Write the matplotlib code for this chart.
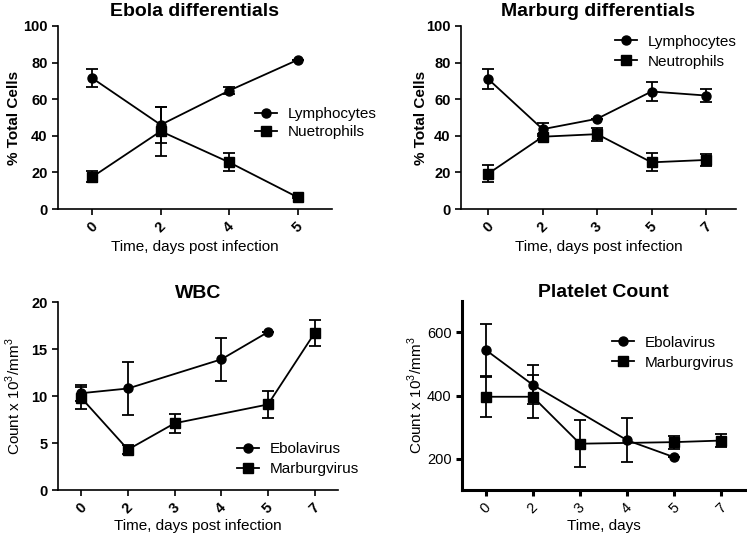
import matplotlib
matplotlib.use('Agg')
import matplotlib.pyplot as plt
from matplotlib.lines import Line2D
import numpy as np

plt.rcParams['font.family'] = ['Liberation Sans', 'DejaVu Sans']
plt.rcParams['mathtext.fontset'] = 'custom'
plt.rcParams['mathtext.rm'] = 'Liberation Sans'

# Ebola differentials
ebola_days = ['0', '2', '4', '5']
ebola_lymph = [71.5, 46.0, 64.7, 81.5]
ebola_lymph_err = [5.0, 10.0, 2.0, 0.0]
ebola_neut = [17.5, 42.5, 25.5, 6.4]
ebola_neut_err = [3.0, 13.5, 5.0, 0.6]

# Marburg differentials
marburg_days = ['0', '2', '3', '5', '7']
marburg_lymph = [71.0, 43.6, 49.3, 64.2, 62.0]
marburg_lymph_err = [5.5, 3.6, 0.0, 5.0, 3.4]
marburg_neut = [19.3, 39.5, 40.9, 25.5, 26.8]
marburg_neut_err = [4.5, 1.5, 3.5, 5.0, 3.3]

# WBC / platelets share the same day axis
count_days = ['0', '2', '3', '4', '5', '7']
wbc_ebola_idx = [0, 1, 3, 4]
wbc_ebola = [10.3, 10.8, 13.9, 16.8]
wbc_ebola_err = [0.85, 2.8, 2.3, 0.0]
wbc_marburg_idx = [0, 1, 2, 4, 5]
wbc_marburg = [9.8, 4.3, 7.1, 9.1, 16.7]
wbc_marburg_err = [1.2, 0.45, 1.0, 1.45, 1.4]

plt_ebola_idx = [0, 1, 3, 4]
plt_ebola = [545, 434, 258, 204]
plt_ebola_err = [82, 62, 70, 0]
plt_marburg_idx = [0, 1, 2, 4, 5]
plt_marburg = [396, 396, 247, 252, 257]
plt_marburg_err = [64, 68, 75, 21, 21]

fig = plt.figure(figsize=(7.47, 5.37), dpi=100)
ax1 = fig.add_axes([0.0776, 0.6108, 0.3668, 0.3408])
ax2 = fig.add_axes([0.6171, 0.6108, 0.3681, 0.3408])
ax3 = fig.add_axes([0.0776, 0.0875, 0.3748, 0.3501])
ax4 = fig.add_axes([0.6185, 0.0875, 0.3788, 0.3520])

line_kw = dict(color='black', lw=1.3, elinewidth=1.3, capsize=4, capthick=1.3, ms=6.5)


def style_axes(ax, spine_w, bold_ticks):
    for s in ['top', 'right']:
        ax.spines[s].set_visible(False)
    for s in ['left', 'bottom']:
        ax.spines[s].set_linewidth(spine_w)
    ax.tick_params(direction='out', length=4, width=spine_w, labelsize=10.5)
    w = 'bold' if bold_ticks else 'normal'
    for lab in ax.get_yticklabels():
        lab.set_fontweight(w)
    for lab in ax.get_xticklabels():
        lab.set_fontweight(w)
        lab.set_rotation(45)
        lab.set_ha('center')
        lab.set_va('top')


def add_legend(ax, labels, anchor, spacing):
    handles = [Line2D([], [], color='black', lw=1.3, marker='o', ms=6.5),
               Line2D([], [], color='black', lw=1.3, marker='s', ms=6.5)]
    ax.legend(handles, labels, loc='center left', bbox_to_anchor=anchor, frameon=False,
              fontsize=11, handlelength=1.45, handletextpad=0.7, labelspacing=spacing,
              borderpad=0, borderaxespad=0)


# --- Ebola differentials ---
x = np.arange(len(ebola_days))
ax1.errorbar(x, ebola_lymph, yerr=ebola_lymph_err, marker='o', **line_kw)
ax1.errorbar(x, ebola_neut, yerr=ebola_neut_err, marker='s', **line_kw)
ax1.set_xlim(-0.5, 3.5)
ax1.set_ylim(0, 100)
ax1.set_yticks([0, 20, 40, 60, 80, 100])
ax1.set_xticks(x)
ax1.set_xticklabels(ebola_days)
ax1.set_title('Ebola differentials', fontsize=14, fontweight='bold', pad=7)
ax1.set_ylabel('% Total Cells', fontsize=11, fontweight='bold')
ax1.yaxis.set_label_coords(-0.135, 0.5)
ax1.set_xlabel('Time, days post infection', fontsize=11)
ax1.xaxis.set_label_coords(0.5, -0.17)
style_axes(ax1, 1.2, True)
add_legend(ax1, ['Lymphocytes', 'Nuetrophils'], (0.72, 0.47), 0.25)

# --- Marburg differentials ---
x = np.arange(len(marburg_days))
ax2.errorbar(x, marburg_lymph, yerr=marburg_lymph_err, marker='o', **line_kw)
ax2.errorbar(x, marburg_neut, yerr=marburg_neut_err, marker='s', **line_kw)
ax2.set_xlim(-0.5, 4.55)
ax2.set_ylim(0, 100)
ax2.set_yticks([0, 20, 40, 60, 80, 100])
ax2.set_xticks(x)
ax2.set_xticklabels(marburg_days)
ax2.set_title('Marburg differentials', fontsize=14, fontweight='bold', pad=7)
ax2.set_ylabel('% Total Cells', fontsize=11, fontweight='bold')
ax2.yaxis.set_label_coords(-0.12, 0.5)
ax2.set_xlabel('Time, days post infection', fontsize=11)
ax2.xaxis.set_label_coords(0.5, -0.17)
style_axes(ax2, 1.2, True)
add_legend(ax2, ['Lymphocytes', 'Neutrophils'], (0.56, 0.86), 0.4)

# --- WBC ---
x = np.arange(len(count_days))
ax3.errorbar(wbc_ebola_idx, wbc_ebola, yerr=wbc_ebola_err, marker='o', **line_kw)
ax3.errorbar(wbc_marburg_idx, wbc_marburg, yerr=wbc_marburg_err, marker='s', **line_kw)
ax3.set_xlim(-0.5, 5.5)
ax3.set_ylim(0, 20)
ax3.set_yticks([0, 5, 10, 15, 20])
ax3.set_xticks(x)
ax3.set_xticklabels(count_days)
ax3.set_title('WBC', fontsize=14, fontweight='bold', pad=3)
ax3.set_ylabel(r'Count x 10$^3$/mm$^3$', fontsize=11)
ax3.yaxis.set_label_coords(-0.125, 0.5)
ax3.set_xlabel('Time, days post infection', fontsize=11)
ax3.xaxis.set_label_coords(0.5, -0.155)
style_axes(ax3, 1.2, True)
add_legend(ax3, ['Ebolavirus', 'Marburgvirus'], (0.64, 0.165), 0.4)

# --- Platelet count ---
ax4.errorbar(plt_ebola_idx, plt_ebola, yerr=plt_ebola_err, marker='o', **line_kw)
ax4.errorbar(plt_marburg_idx, plt_marburg, yerr=plt_marburg_err, marker='s', **line_kw)
ax4.set_xlim(-0.5, 5.5)
ax4.set_ylim(100, 700)
ax4.set_yticks([200, 400, 600])
ax4.set_xticks(x)
ax4.set_xticklabels(count_days)
ax4.set_title('Platelet Count', fontsize=14, fontweight='bold', pad=3)
ax4.set_ylabel(r'Count x 10$^3$/mm$^3$', fontsize=11)
ax4.yaxis.set_label_coords(-0.13, 0.5)
ax4.set_xlabel('Time, days', fontsize=11)
ax4.xaxis.set_label_coords(0.5, -0.155)
style_axes(ax4, 2.2, False)
add_legend(ax4, ['Ebolavirus', 'Marburgvirus'], (0.53, 0.727), 0.4)

fig.savefig('out.png', dpi=100)
